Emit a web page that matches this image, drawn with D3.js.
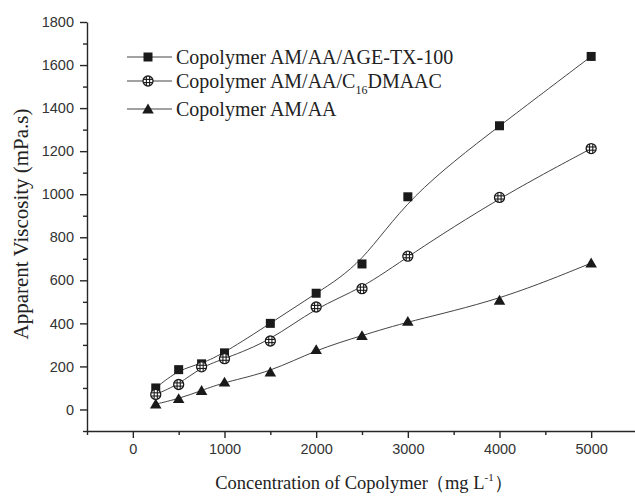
<!DOCTYPE html>
<html><head><meta charset="utf-8">
<script src="https://cdn.jsdelivr.net/npm/d3@7"></script>
<style>body{margin:0;background:#fff}svg{display:block}</style>
</head><body>
<svg id="c" width="635" height="496"></svg>
<script>
const concentrations = [250, 500, 750, 1000, 1500, 2000, 2500, 3000, 4000, 5000];
const seriesTX100 = [100, 185, 212, 263, 400, 540, 676, 988, 1318, 1640];
const seriesC16 = [70, 116, 198, 236, 318, 476, 561, 712, 985, 1212];
const seriesAMAA = [25, 50, 88, 127, 174, 278, 343, 409, 507, 680];
const xMajorTicks = [0, 1000, 2000, 3000, 4000, 5000];
const xMinorTicks = [-500, 500, 1500, 2500, 3500, 4500];
const yMajorTicks = [0, 200, 400, 600, 800, 1000, 1200, 1400, 1600, 1800];
const yMinorTicks = [-100, 100, 300, 500, 700, 900, 1100, 1300, 1500, 1700];

const svg = d3.select('#c');
const x = d3.scaleLinear().domain([-500, 5500]).range([87, 637]);
const y = d3.scaleLinear().domain([-100, 1800]).range([431, 22]);
const ink = '#262626';

function styleAxis(g){
  g.selectAll('path,line').attr('stroke', ink).attr('stroke-width', 1.4);
  g.selectAll('text').attr('fill', '#333').style('font-family','"Liberation Sans", Arial, sans-serif').style('font-size','14.5px');
}
// bottom axis
const gx = svg.append('g').attr('transform', `translate(0,${y(-100)})`);
gx.call(d3.axisBottom(x).tickValues(xMajorTicks).tickSize(7).tickSizeOuter(0).tickPadding(6).tickFormat(d3.format('d')));
styleAxis(gx);
const gxm = svg.append('g').attr('transform', `translate(0,${y(-100)})`);
gxm.call(d3.axisBottom(x).tickValues(xMinorTicks).tickSize(4).tickSizeOuter(0).tickFormat(''));
gxm.select('path').remove();
styleAxis(gxm);
// left axis
const gy = svg.append('g').attr('transform', `translate(${x(-500)},0)`);
gy.call(d3.axisLeft(y).tickValues(yMajorTicks).tickSize(7).tickSizeOuter(0).tickPadding(6).tickFormat(d3.format('d')));
styleAxis(gy);
const gym = svg.append('g').attr('transform', `translate(${x(-500)},0)`);
gym.call(d3.axisLeft(y).tickValues(yMinorTicks).tickSize(4).tickSizeOuter(0).tickFormat(''));
gym.select('path').remove();
styleAxis(gym);

// lines
const line = d3.line().x(d => x(d[0])).y(d => y(d[1])).curve(d3.curveBasis);
const series = [
  {name:'tx', vals: seriesTX100, marker:'square'},
  {name:'c16', vals: seriesC16, marker:'circle'},
  {name:'amaa', vals: seriesAMAA, marker:'triangle'}
];
series.forEach(s => {
  const pts = concentrations.map((c,i)=>[c, s.vals[i]]);
  svg.append('path').attr('d', line(pts)).attr('fill','none').attr('stroke','#444').attr('stroke-width',1);
});

function drawMarker(g, type, cx, cy){
  if(type==='square'){
    g.append('rect').attr('x',cx-4.5).attr('y',cy-4.5).attr('width',9).attr('height',9).attr('fill','#1a1a1a');
  } else if(type==='circle'){
    g.append('circle').attr('cx',cx).attr('cy',cy).attr('r',5).attr('fill','#fff').attr('stroke','#1a1a1a').attr('stroke-width',1.3);
    [-1.6,1.6].forEach(o=>{
      g.append('line').attr('x1',cx+o).attr('x2',cx+o).attr('y1',cy-4.6).attr('y2',cy+4.6).attr('stroke','#1a1a1a').attr('stroke-width',1.1);
      g.append('line').attr('y1',cy+o).attr('y2',cy+o).attr('x1',cx-4.6).attr('x2',cx+4.6).attr('stroke','#1a1a1a').attr('stroke-width',1.1);
    });
  } else {
    const s=5.5;
    g.append('path').attr('d',`M${cx},${cy-s}L${cx+s*1.05},${cy+s*0.8}L${cx-s*1.05},${cy+s*0.8}Z`).attr('fill','#1a1a1a');
  }
}
series.forEach(s => {
  const g = svg.append('g');
  concentrations.forEach((c,i)=> drawMarker(g, s.marker, x(c), y(s.vals[i])));
});

// legend
const serif = '"Liberation Serif", "Times New Roman", serif';
const legendRows = [
  {marker:'square', y:57, parts:[['Copolymer AM/AA/AGE-TX-100',null]]},
  {marker:'circle', y:81, parts:[['Copolymer AM/AA/C',null],['16','sub'],['DMAAC',null]]},
  {marker:'triangle', y:109, parts:[['Copolymer AM/AA',null]]}
];
legendRows.forEach(r=>{
  const g = svg.append('g');
  g.append('line').attr('x1',127).attr('x2',172).attr('y1',r.y).attr('y2',r.y).attr('stroke','#444').attr('stroke-width',1);
  drawMarker(g, r.marker, 148, r.y);
  const t = g.append('text').attr('x',176).attr('y',r.y+6.5).style('font-family',serif).style('font-size','20px').attr('fill','#222');
  r.parts.forEach(p=>{
    if(p[1]==='sub'){
      t.append('tspan').attr('dy',6).style('font-size','12px').attr('fill','#222').text(p[0]);
    } else {
      const ts = t.append('tspan').text(p[0]);
      if(t.selectAll('tspan').size()>1) ts.attr('dy',-6);
    }
  });
});

// axis titles
const xt = svg.append('text').attr('x',364).attr('y',489).attr('text-anchor','middle')
  .style('font-family',serif).style('font-size','18.5px').attr('fill','#222');
xt.append('tspan').text('Concentration of Copolymer');
xt.append('tspan').attr('dx',-2).text('（mg L');
xt.append('tspan').attr('dy',-8).style('font-size','11px').text('-1');
xt.append('tspan').attr('dy',8).text('）');

svg.append('text').attr('transform','translate(28,224) rotate(-90)').attr('text-anchor','middle')
  .style('font-family',serif).style('font-size','21px').attr('fill','#222')
  .text('Apparent Viscosity (mPa.s)');
</script>
</body></html>
